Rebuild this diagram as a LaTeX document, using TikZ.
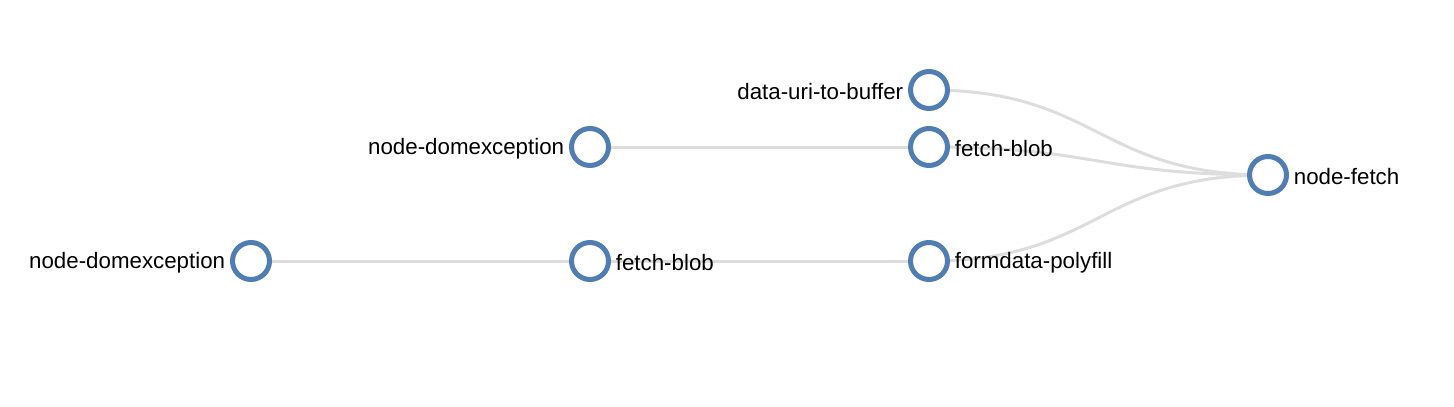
\documentclass[tikz,border=0pt]{standalone}
\usepackage{fontspec}
\setmainfont{Liberation Sans}
\usetikzlibrary{backgrounds}

\definecolor{nodeblue}{RGB}{80,126,178}
\definecolor{linkgray}{RGB}{221,221,221}

\begin{document}
\begin{tikzpicture}[
    x=0.02cm, y=-0.02cm,
    pkg/.style={draw=nodeblue, fill=white, circle, line width=0.1cm,
                minimum size=0.74cm, inner sep=0pt},
    lbl/.style={inner sep=0pt, yshift=-0.04cm, font=\fontsize{12.7}{15}\selectfont},
    link/.style={draw=linkgray, line width=0.06cm},
    label distance=0.09cm,
]
\useasboundingbox (0,0) rectangle (1454,406);
\node[pkg, label={[lbl]left:data-uri-to-buffer}] (datauri) at (929,90) {};
\node[pkg, label={[lbl]left:node-domexception}] (domexA) at (590,147) {};
\node[pkg, label={[lbl]right:fetch-blob}] (blobA) at (929,147) {};
\node[pkg, label={[lbl]right:node-fetch}] (nodefetch) at (1268,175) {};
\node[pkg, label={[lbl]left:node-domexception}] (domexB) at (251,261) {};
\node[pkg, label={[lbl]right:fetch-blob}] (blobB) at (590,261) {};
\node[pkg, label={[lbl]right:formdata-polyfill}] (formdata) at (929,261) {};
\begin{pgfonlayer}{background}
  \draw[link] (domexA.center) -- (blobA.center);
  \draw[link] (domexB.center) -- (blobB.center) -- (formdata.center);
  \draw[link] (datauri.center) .. controls (1098,90) and (1098,175) .. (nodefetch.center);
  \draw[link] (blobA.center) .. controls (1098,147) and (1098,175) .. (nodefetch.center);
  \draw[link] (formdata.center) .. controls (1098,261) and (1098,175) .. (nodefetch.center);
\end{pgfonlayer}
\end{tikzpicture}
\end{document}
